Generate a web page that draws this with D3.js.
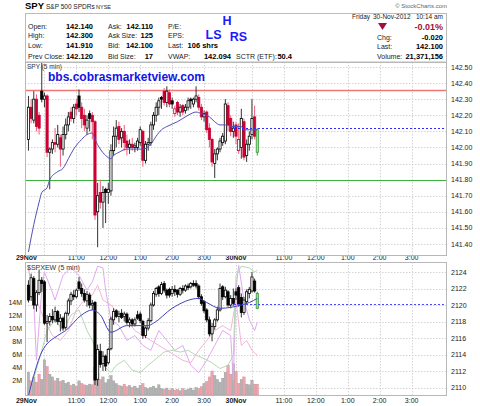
<!DOCTYPE html>
<html><head><meta charset="utf-8">
<script src="https://cdn.jsdelivr.net/npm/d3@7"></script>
<style>body{margin:0;background:#fff}svg{display:block;font-family:"Liberation Sans",Arial,sans-serif}</style>
</head><body><svg id="c" width="480" height="406"></svg>
<script>
// ---------- DATA ----------
const spyO=[142.05,142.25,142.17,142.30,142.20,142.35,142.30,142.32,141.97,141.99,142.03,142.02,142.06,141.99,142.08,142.14,142.22,142.18,142.27,142.32,142.25,142.20,142.12,142.21,142.20,142.16,141.60,141.72,141.66,141.74,141.72,141.73,141.98,142.07,142.13,142.06,142.10,142.04,142.00,142.02,142.00,142.00,142.03,142.10,141.92,142.02,142.03,142.14,142.20,142.25,142.31,142.35,142.28,142.34,142.29,142.21,142.28,142.22,142.26,142.23,142.25,142.30,142.27,142.30,142.31,142.25,142.19,142.22,142.12,142.05,141.90,141.96,141.99,142.03,142.04,142.26,142.18,142.10,142.14,141.98,142.00,142.16,141.95,142.02,142.08,142.19,142.11];
const spyH=[142.32,142.30,142.35,142.33,142.22,142.53,142.34,142.33,142.00,142.05,142.12,142.14,142.08,142.13,142.18,142.22,142.25,142.27,142.30,142.36,142.28,142.24,142.20,142.23,142.22,142.17,141.78,141.80,141.76,141.75,141.78,142.02,142.13,142.17,142.16,142.12,142.14,142.08,142.05,142.06,142.03,142.06,142.13,142.11,142.04,142.06,142.16,142.22,142.28,142.31,142.32,142.37,142.38,142.36,142.31,142.26,142.29,142.27,142.27,142.27,142.31,142.31,142.31,142.38,142.33,142.27,142.23,142.23,142.15,142.06,141.99,142.00,142.06,142.09,142.30,142.28,142.20,142.16,142.16,142.15,142.24,142.18,142.05,142.10,142.30,142.26,142.12];
const spyL=[141.98,142.15,142.15,142.10,142.08,142.28,142.25,141.94,141.74,141.96,141.97,142.00,141.88,141.95,142.05,142.10,142.16,142.15,142.20,142.22,142.12,142.10,142.08,142.10,142.05,141.55,141.38,141.62,141.50,141.53,141.65,141.70,141.95,142.00,142.02,142.00,141.98,141.95,141.96,141.98,141.97,141.98,142.01,141.88,141.90,141.98,142.01,142.11,142.16,142.20,142.24,142.26,142.25,142.25,142.24,142.19,142.20,142.19,142.20,142.21,142.23,142.24,142.25,142.28,142.23,142.17,142.16,142.09,142.00,141.88,141.81,141.92,141.97,142.01,142.02,142.10,142.07,142.06,142.02,141.96,141.93,141.92,141.91,141.98,142.05,142.05,141.95];
const spyC=[142.25,142.18,142.30,142.13,142.12,142.30,142.32,141.97,141.99,142.03,142.02,142.08,141.99,142.08,142.14,142.19,142.18,142.25,142.24,142.25,142.18,142.14,142.17,142.18,142.16,141.58,141.70,141.66,141.72,141.72,141.74,141.98,142.07,142.12,142.05,142.10,142.03,142.00,142.02,142.00,142.01,142.04,142.11,141.92,142.02,142.03,142.14,142.20,142.25,142.29,142.30,142.28,142.35,142.27,142.27,142.24,142.22,142.25,142.22,142.25,142.29,142.29,142.30,142.32,142.25,142.19,142.21,142.11,142.05,141.91,141.96,141.99,142.04,142.07,142.27,142.14,142.10,142.12,142.07,142.05,142.18,141.94,142.02,142.07,142.18,142.07,141.97];
const spyMA=[[0,141.35],[2,141.52],[4,141.66],[5,141.72],[7,141.75],[8,141.80],[11,141.85],[13,141.87],[15,141.93],[17,141.99],[20,142.05],[22,142.08],[24,142.09],[25,142.05],[27,141.99],[29,141.95],[31,141.93],[32,141.95],[34,141.97],[37,141.99],[40,141.99],[43,141.99],[46,142.02],[48,142.07],[50,142.11],[52,142.13],[56,142.16],[60,142.20],[63,142.22],[65,142.21],[68,142.19],[70,142.16],[72,142.14],[74,142.14],[77,142.13],[80,142.13],[81,142.11],[84,142.11],[86,142.11]];
const spyLevels=[142.355,141.80];      // red resistance, green support
const spyPrevClose=142.12;

const ewO=[2122.4,2121.0,2123.2,2120.0,2121.5,2123.0,2122.8,2117.8,2118.0,2118.6,2118.2,2119.2,2118.0,2118.4,2117.3,2119.0,2120.5,2121.2,2121.0,2122.8,2122.0,2121.4,2120.5,2121.2,2120.0,2120.3,2111.0,2114.4,2112.9,2113.8,2113.0,2114.7,2118.2,2119.3,2118.6,2119.0,2118.6,2118.9,2117.9,2118.2,2117.7,2118.8,2118.9,2118.0,2116.3,2117.2,2118.1,2120.0,2121.3,2122.2,2121.4,2122.6,2121.8,2121.9,2121.4,2121.9,2121.8,2121.3,2122.0,2121.8,2122.3,2122.2,2122.6,2122.6,2122.3,2121.0,2120.4,2119.4,2118.2,2116.5,2117.4,2118.2,2119.4,2122.2,2121.0,2121.6,2120.0,2120.8,2121.6,2122.1,2120.9,2119.1,2120.4,2121.4,2121.7,2122.9,2121.4];
const ewH=[2123.0,2123.8,2123.5,2121.8,2124.3,2123.4,2123.0,2118.8,2119.0,2119.5,2119.8,2119.4,2118.9,2118.6,2119.2,2120.8,2121.6,2121.8,2122.0,2123.4,2122.6,2121.9,2121.7,2121.5,2120.6,2120.5,2115.2,2115.3,2114.4,2114.0,2114.8,2118.6,2119.6,2119.5,2119.3,2119.5,2119.2,2119.1,2118.5,2118.4,2118.5,2119.3,2119.2,2118.2,2117.4,2118.4,2120.3,2121.7,2122.2,2122.4,2122.8,2122.9,2122.0,2122.1,2122.3,2122.4,2121.9,2122.2,2122.4,2122.5,2122.6,2122.8,2123.0,2123.0,2122.5,2121.3,2120.6,2119.6,2118.6,2117.8,2118.4,2119.8,2122.6,2122.4,2122.2,2121.8,2121.2,2122.0,2122.0,2122.4,2121.4,2121.0,2121.9,2122.2,2124.0,2123.2,2121.6];
const ewL=[2120.3,2120.5,2119.5,2119.2,2121.2,2121.6,2117.6,2115.5,2117.5,2117.8,2117.9,2117.6,2116.8,2116.9,2117.0,2118.7,2120.0,2120.6,2120.8,2121.7,2121.0,2120.3,2119.8,2119.6,2119.4,2110.3,2110.2,2112.4,2112.0,2112.0,2112.8,2114.5,2117.6,2118.4,2117.9,2118.3,2118.0,2117.6,2117.3,2117.4,2117.4,2118.2,2117.8,2115.9,2116.0,2116.9,2117.9,2119.8,2121.0,2121.0,2121.2,2121.5,2120.8,2120.9,2121.0,2121.1,2120.9,2121.1,2121.4,2121.6,2121.8,2122.0,2122.2,2122.0,2120.7,2119.9,2119.0,2117.9,2116.2,2115.6,2117.0,2118.0,2119.2,2120.6,2120.8,2119.8,2119.6,2119.9,2120.6,2119.8,2118.5,2118.8,2120.0,2120.8,2121.5,2121.5,2119.5];
const ewC=[2120.6,2123.3,2120.0,2121.5,2123.0,2122.6,2117.8,2118.0,2118.6,2118.2,2119.2,2118.0,2118.4,2117.2,2119.0,2120.5,2121.3,2121.0,2121.8,2122.0,2121.4,2120.6,2121.3,2120.0,2120.2,2110.9,2114.6,2112.8,2113.8,2112.6,2114.6,2118.3,2119.2,2118.6,2118.9,2118.5,2118.9,2117.9,2118.2,2117.7,2118.2,2118.4,2118.1,2116.3,2117.2,2118.1,2120.0,2121.4,2122.0,2121.4,2122.5,2121.8,2121.2,2121.2,2121.9,2121.6,2121.3,2122.0,2121.8,2122.3,2122.1,2122.6,2122.4,2122.3,2121.0,2120.2,2119.3,2118.2,2116.5,2117.4,2118.2,2119.4,2122.0,2121.0,2121.8,2120.0,2120.8,2120.2,2121.2,2120.1,2119.1,2120.6,2121.6,2121.9,2123.4,2121.7,2119.6];
const ewMA=[[0,2109.0],[5,2114.3],[11,2116.3],[14,2116.9],[20,2118.8],[24,2119.4],[27,2118.8],[31,2116.7],[37,2117.5],[45,2117.5],[47,2117.8],[54,2119.6],[64,2120.8],[67,2120.3],[72,2119.6],[80,2120.0],[83,2120.3],[86,2120.8]];
const ewPrevClose=2120.1;
const volume=[3.3,2.0,2.6,1.8,3.0,2.2,5.2,4.2,3.0,2.6,2.0,2.4,1.9,2.1,1.6,1.8,1.3,1.5,1.2,2.0,1.6,1.4,1.3,1.5,1.4,4.0,3.2,2.2,2.6,1.7,2.2,2.8,2.0,1.6,1.3,1.2,1.5,1.1,1.3,1.0,1.2,0.9,1.3,1.6,1.0,0.8,1.0,1.2,0.9,1.4,0.8,0.7,0.9,0.6,0.8,0.6,0.7,0.5,0.8,0.6,0.7,0.9,0.6,1.0,0.8,1.1,1.6,1.9,2.6,3.5,2.8,2.2,1.8,2.4,3.3,4.4,3.0,4.6,3.4,1.6,2.2,2.6,1.5,1.4,2.1,1.5,1.5];
const overlayA=[[0,2124.5],[2,2120.6],[3,2113.3],[5,2121.8],[6,2124.0],[8,2122.4],[10,2120.6],[13,2123.6],[16,2124.5],[19,2123.6],[22,2121.8],[24,2122.8],[26,2124.7],[28,2124.5],[29,2121.8],[31,2118.2],[34,2117.5],[37,2115.7],[40,2116.3],[43,2115.1],[46,2114.5],[49,2116.9],[52,2115.7],[55,2114.5],[58,2115.1],[61,2112.7],[64,2111.8],[67,2113.3],[70,2115.1],[73,2116.9],[76,2116.3],[77,2110.9],[78,2121.8],[79,2124.8],[81,2120.6],[83,2118.2],[85,2116.9],[86,2117.9]];
const overlayB=[[0,2121.8],[3,2120.6],[6,2118.2],[9,2116.3],[12,2115.7],[15,2116.9],[18,2119.4],[21,2120.6],[24,2121.2],[26,2122.4],[28,2120.6],[31,2120.0],[34,2118.8],[37,2118.2],[40,2116.9],[43,2116.3],[46,2115.7],[49,2115.1],[52,2114.5],[55,2113.9],[58,2113.3],[61,2113.0],[64,2114.5],[67,2115.7],[70,2116.9],[73,2117.5],[76,2116.9],[78,2120.6],[80,2115.1],[82,2115.7],[84,2114.5],[86,2113.9]];
const overlayC=[[0,2109.0],[4,2113.3],[7,2116.9],[10,2118.2],[13,2116.9],[16,2118.8],[19,2119.4],[22,2116.9],[24,2115.7],[26,2113.9],[28,2112.7],[31,2111.8],[33,2112.7],[36,2113.3],[39,2112.1],[42,2111.8],[45,2112.7],[48,2113.5],[51,2114.3],[54,2114.5],[57,2114.3],[60,2114.5],[63,2113.9],[66,2113.5],[69,2113.0],[72,2112.3],[75,2112.7],[77,2113.9],[78,2123.6],[80,2124.7],[83,2124.5],[85,2124.0],[86,2124.2]];

const tickIdx=[0,6,18,30,42,54,66,78,84,96,108,120,132,144];
const tickLabels=["29Nov","","11:00","12:00","1:00","2:00","3:00","30Nov","","11:00","12:00","1:00","2:00","3:00"];
const priceTicks=[141.4,141.5,141.6,141.7,141.8,141.9,142.0,142.1,142.2,142.3,142.4,142.5];
const ewTicks=[2110,2112,2114,2116,2118,2120,2122,2124];
const volTicks=[2,4,6,8,10,12,14];

const qLab1=["Open:","High:","Low:","Prev Close:"], qVal1=["142.140","142.300","141.910","142.120"];
const qLab2=["Ask:","Ask Size:","Bid:","Bid Size:"], qVal2=["142.110","125","142.100","17"];
const qLab3=["P/E:","EPS:","Last:","VWAP:"], qVal3=["","","106 shrs","142.094"];
const qLab4=["Chg:","Last:","Volume:"], qVal4=["-0.020","142.100","21,371,156"];

// ---------- LAYOUT ----------
const svg=d3.select("#c");
const X0=25,X1=447;
const UP={t:62,b:255}, LO={t:262,b:395};
const x=d3.scaleLinear().domain([-1.3,157.3]).range([X0,X1]);
const yP=d3.scaleLinear().domain([141.4,142.5]).range([244,67]);
const yE=d3.scaleLinear().domain([2110,2124]).range([387.5,272]);
const yV=d3.scaleLinear().domain([0,14]).range([394,302]);
const RED="#cc0033", PINKW="#e8607c";
const snap=v=>Math.round(v)+0.5;

const defs=svg.append("defs");
defs.append("clipPath").attr("id","cu").append("rect").attr("x",X0).attr("y",UP.t).attr("width",X1-X0).attr("height",UP.b-UP.t);
defs.append("clipPath").attr("id","cl").append("rect").attr("x",X0).attr("y",LO.t).attr("width",X1-X0).attr("height",LO.b-LO.t);

// ---------- HEADER ----------
const hd=svg.append("g");
hd.append("text").attr("x",25).attr("y",9).attr("font-size",9.5).attr("font-weight","bold").text("SPY");
hd.append("text").attr("x",46).attr("y",9).attr("font-size",6.5).attr("fill","#222").text("S&P 500 SPDRs");
hd.append("text").attr("x",96).attr("y",9).attr("font-size",5.5).attr("fill","#222").text("NYSE");
hd.append("text").attr("x",447).attr("y",8).attr("text-anchor","end").attr("font-size",6).attr("fill","#666").text("© StockCharts.com");
hd.append("rect").attr("x",X0+0.5).attr("y",13.5).attr("width",X1-X0-1).attr("height",UP.t-13.5).attr("fill","none").attr("stroke","#bbb");
const rowsY=[29,38,47.5,59];
function col(labels,vals,lx,vx,anchor){
  labels.forEach((l,k)=>{
    hd.append("text").attr("x",lx).attr("y",rowsY[k]).attr("font-size",7).attr("fill","#222").text(l);
    hd.append("text").attr("x",vx).attr("y",rowsY[k]).attr("text-anchor",anchor).attr("font-size",7.5).attr("font-weight","bold").text(vals[k]);
  });
}
col(qLab1,qVal1,28,93,"end");
col(qLab2,qVal2,108,153,"end");
qLab3.forEach((l,k)=>{hd.append("text").attr("x",168).attr("y",rowsY[k]).attr("font-size",7).attr("fill","#222").text(l);});
hd.append("text").attr("x",218).attr("y",rowsY[2]).attr("text-anchor","end").attr("font-size",7.5).attr("font-weight","bold").text(qVal3[2]);
hd.append("text").attr("x",231).attr("y",rowsY[3]).attr("text-anchor","end").attr("font-size",7.5).attr("font-weight","bold").text(qVal3[3]);
hd.append("text").attr("x",236).attr("y",rowsY[3]).attr("font-size",7).attr("fill","#222").text("SCTR (ETF):");
hd.append("text").attr("x",292).attr("y",rowsY[3]).attr("text-anchor","end").attr("font-size",7.5).attr("font-weight","bold").text("50.4");
[["H",227,25],["LS",213.5,38.5],["RS",238.5,41]].forEach(d=>{
  hd.append("text").attr("x",d[1]).attr("y",d[2]).attr("text-anchor","middle").attr("font-size",12.5).attr("font-weight","bold").attr("fill","#1a1aff").text(d[0]);
});
hd.append("text").attr("x",352).attr("y",19).attr("font-size",6.5).attr("fill","#222").text("Friday");
hd.append("text").attr("x",373).attr("y",19).attr("font-size",6.5).attr("fill","#222").text("30-Nov-2012");
hd.append("text").attr("x",443).attr("y",19).attr("text-anchor","end").attr("font-size",6.5).attr("fill","#222").text("10:14 am");
hd.append("path").attr("d","M378,23L387,23L382.5,30Z").attr("fill","#a0103c");
hd.append("text").attr("x",443).attr("y",30).attr("text-anchor","end").attr("font-size",9).attr("font-weight","bold").attr("fill","#a0103c").text("-0.01%");
qLab4.forEach((l,k)=>{
  const yy=[40,49,59][k];
  hd.append("text").attr("x",377).attr("y",yy).attr("font-size",7).attr("fill","#222").text(l);
  hd.append("text").attr("x",443).attr("y",yy).attr("text-anchor","end").attr("font-size",7.5).attr("font-weight","bold").text(qVal4[k]);
});

// ---------- GRIDS & AXES ----------
function grid(P,yScale,ticks,clip){
  const g=svg.append("g").attr("clip-path",`url(#${clip})`);
  g.selectAll(".h").data(ticks).join("line").attr("x1",X0).attr("x2",X1)
   .attr("y1",d=>snap(yScale(d))).attr("y2",d=>snap(yScale(d)))
   .attr("stroke","#d4d4d4").attr("stroke-dasharray","1.5,1.5");
  g.selectAll(".v").data(tickIdx.filter(i=>i>0)).join("line")
   .attr("x1",d=>snap(x(d))).attr("x2",d=>snap(x(d))).attr("y1",P.t).attr("y2",P.b)
   .attr("stroke","#d4d4d4").attr("stroke-dasharray","1.5,1.5");
}
grid(UP,yP,priceTicks,"cu");
grid(LO,yE,ewTicks,"cl");

const ax=svg.append("g").attr("font-size",7).attr("fill","#222");
priceTicks.forEach(v=>ax.append("text").attr("x",451).attr("y",yP(v)+2.5).text(v.toFixed(2)));
ewTicks.forEach(v=>ax.append("text").attr("x",451).attr("y",yE(v)+2.5).text(v));
volTicks.forEach(v=>ax.append("text").attr("x",22).attr("y",yV(v)+2.5).attr("text-anchor","end").text(v+"M"));
[260,403].forEach(yy=>{
  tickIdx.forEach((i,k)=>{
    if(!tickLabels[k])return;
    const bold=tickLabels[k].indexOf("Nov")>0;
    ax.append("text").attr("x",x(i)+(i===0?-2:0)).attr("y",yy).attr("text-anchor","middle")
      .attr("font-weight",bold?"bold":"normal").text(tickLabels[k]);
  });
});

// ---------- UPPER PANEL ----------
const gu=svg.append("g").attr("clip-path","url(#cu)");
gu.append("text").attr("x",27).attr("y",68.5).attr("font-size",6.5).attr("fill","#333").text("SPY (5 min)");
const lvlCol=["#f27676","#3cb43c"];
spyLevels.forEach((v,k)=>gu.append("line").attr("x1",X0).attr("x2",X1).attr("y1",snap(yP(v))).attr("y2",snap(yP(v)))
  .attr("stroke",lvlCol[k]).attr("stroke-width",k===0?1.5:1.2));
gu.append("text").attr("x",48).attr("y",81).attr("font-size",12).attr("font-weight","bold").attr("fill","#1414e6").text("bbs.cobrasmarketview.com");

function candles(g,O,Hh,L,C,y,mode){
  const n=C.length;
  for(let i=0;i<n;i++){
    const o=O[i],h=Hh[i],l=L[i],c=C[i];
    const last=i===n-1;
    let col;
    if(last) col="#3a9a3a";
    else if(mode==="spy") col=(i>0&&c<C[i-1])?RED:"#000";
    else col="#000";
    const wick=last?"#3a9a3a":(col===RED?PINKW:"#333");
    const cx=x(i);
    g.append("line").attr("x1",cx).attr("x2",cx).attr("y1",y(h)).attr("y2",y(l)).attr("stroke",wick).attr("stroke-width",1);
    const top=y(Math.max(o,c)), bot=y(Math.min(o,c));
    const filled=c<o;
    let fill=filled?col:"#fff";
    if(last) fill="#9be39b";
    g.append("rect").attr("x",cx-1.1).attr("y",top).attr("width",2.2).attr("height",Math.max(0.8,bot-top))
      .attr("fill",fill).attr("stroke",col).attr("stroke-width",0.8);
  }
}
candles(gu,spyO,spyH,spyL,spyC,yP,"spy");
const lineP=d3.line().x(d=>x(d[0])).y(d=>yP(d[1])).curve(d3.curveMonotoneX);
gu.append("path").attr("d",lineP(spyMA)).attr("fill","none").attr("stroke","#5050b8").attr("stroke-width",1);
gu.append("line").attr("x1",x(78)-2).attr("x2",X1).attr("y1",snap(yP(spyPrevClose))).attr("y2",snap(yP(spyPrevClose)))
  .attr("stroke","#2a2aff").attr("stroke-width",1).attr("stroke-dasharray","2,2");

// ---------- LOWER PANEL ----------
const gl=svg.append("g").attr("clip-path","url(#cl)");
gl.selectAll(".vb").data(volume).join("rect")
  .attr("x",(d,i)=>x(i)-1.2).attr("width",2.4).attr("y",d=>yV(d)).attr("height",d=>yV(0)-yV(d)+1)
  .attr("fill",(d,i)=>(i>0&&spyC[i]<spyC[i-1])?"#eaa6ae":"#b4b4b4")
  .attr("stroke",(d,i)=>(i>0&&spyC[i]<spyC[i-1])?"#d88490":"#999").attr("stroke-width",0.4);
const lineE=d3.line().x(d=>x(d[0])).y(d=>yE(d[1]));
[[overlayA,"#e0aaf0"],[overlayB,"#f4b4d8"],[overlayC,"#b4dab4"]].forEach(([d,c])=>
  gl.append("path").attr("d",lineE(d)).attr("fill","none").attr("stroke",c).attr("stroke-width",1));
candles(gl,ewO,ewH,ewL,ewC,yE,"ew");
gl.append("path").attr("d",lineE.curve(d3.curveMonotoneX)(ewMA)).attr("fill","none").attr("stroke","#4040c0").attr("stroke-width",1);
gl.append("line").attr("x1",x(78)-2).attr("x2",X1).attr("y1",snap(yE(ewPrevClose))).attr("y2",snap(yE(ewPrevClose)))
  .attr("stroke","#4a4aff").attr("stroke-width",1).attr("stroke-dasharray","2,2");
gl.append("text").attr("x",27).attr("y",269.5).attr("font-size",7).attr("fill","#333").text("$SPXEW (5 min)");

// panel borders
[UP,LO].forEach(P=>svg.append("rect").attr("x",X0+0.5).attr("y",P.t+0.5).attr("width",X1-X0-1).attr("height",P.b-P.t)
  .attr("fill","none").attr("stroke","#b8b8b8"));
</script></body></html>
